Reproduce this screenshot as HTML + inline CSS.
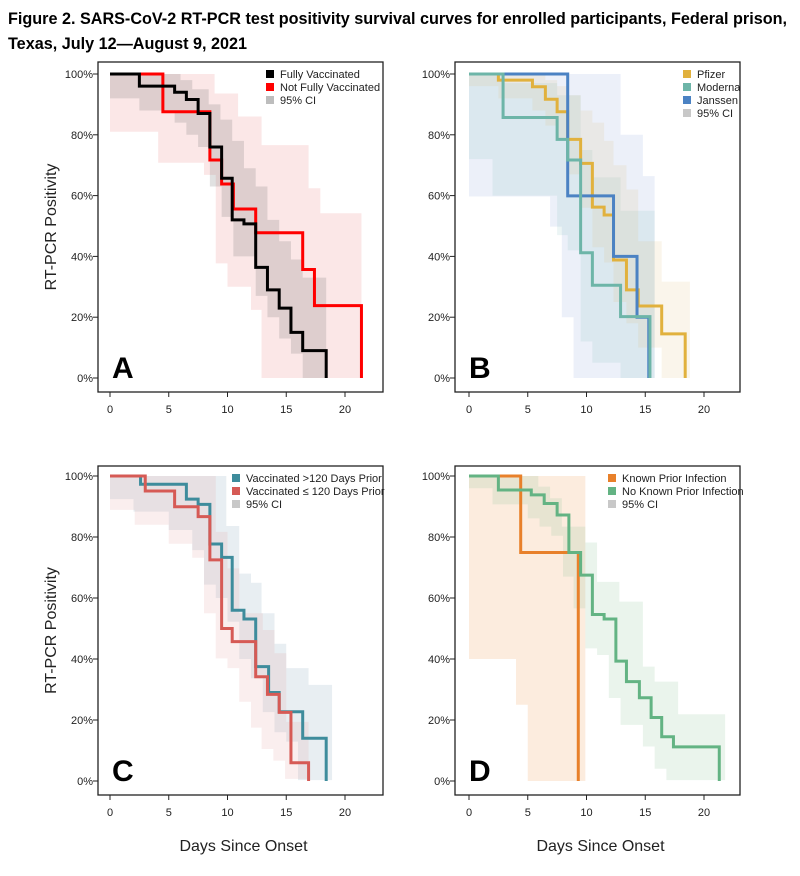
<!DOCTYPE html>
<html><head><meta charset="utf-8">
<style>
html,body{margin:0;padding:0;background:#fff;}
svg{display:block;font-family:"Liberation Sans",Arial,sans-serif;}
</style></head>
<body>
<svg id="chart" width="800" height="876" viewBox="0 0 800 876" xmlns="http://www.w3.org/2000/svg">
<text x="8" y="24" font-size="16.2" font-weight="bold" fill="#000">Figure 2. SARS-CoV-2 RT-PCR test positivity survival curves for enrolled participants, Federal prison,</text>
<text x="8" y="49" font-size="16.2" font-weight="bold" fill="#000">Texas, July 12—August 9, 2021</text>
</svg>
<script>
// ---------- Data ----------
const xTicks = [0, 5, 10, 15, 20];
const yTicks = [0, 20, 40, 60, 80, 100];
const yTickLabels = ["0%", "20%", "40%", "60%", "80%", "100%"];

// Panel A
const aFullTimes = [2.5,5.5,6.5,7.5,8.5,9.5,10.4,11.4,12.4,13.4,14.4,15.4,16.4,18.4];
const aFullVals  = [96,94,91.6,87,76,65.7,52,50.7,36.4,29,23,15,9,0];
const aNotTimes  = [4.5,8.5,9.5,10.5,12.4,16.4,17.4,21.4];
const aNotVals   = [87.6,71.7,63.8,55.6,47.8,35.7,23.8,0];
const aNotCiUpT  = [0,8.9,10.9,12.9,16.9,17.9];
const aNotCiUpV  = [100,93.6,86,76.6,62.4,54.2];
const aNotCiLoT  = [0,4.1,8.0,9.0,10.0,12.0,12.9];
const aNotCiLoV  = [81,70.8,66.8,37.7,30,22.4,0];
const aFullCiUpT = [0,6,7,8.4,9.4,10.4,11.4,12.4,13.4,14.4,15.4,16.4];
const aFullCiUpV = [100,98,95,90,85,78,69,63,52,45,39,33];
const aFullCiLoT = [0,2.5,5.5,6.5,7.5,8.5,9.5,10.5,12.4,13.4,14.4,15.4,16.4];
const aFullCiLoV = [92,88,84,80,76,63,53,40,27,20,13,8,0];

// Panel B
const bPfTimes = [2.5,5.4,6.5,7.5,8.4,9.5,10.5,11.5,12.3,13.4,14.4,16.4,18.4];
const bPfVals  = [98,95.8,91.7,87.6,78.5,70.6,56.2,53.6,38.8,29,23.7,14.5,0];
const bMoTimes = [2.9,7.5,8.4,9.5,10.5,12.9,15.4];
const bMoVals  = [85.7,78.5,71.7,41.2,30.5,20.2,0];
const bJaTimes = [8.4,12.3,14.3,15.3];
const bJaVals  = [59.9,40,20,0];
const bJaCiUpT = [0,12.9,14.8]; const bJaCiUpV = [100,80,66.4];
const bJaCiLoT = [0,6.9,7.9,8.9]; const bJaCiLoV = [59.7,49.8,20,0];
const bMoCiUpT = [0,2.9,7.5,9.5,10.5,12.9]; const bMoCiUpV = [100,97,93,75,66,55];
const bMoCiLoT = [0,2.0,7.5,8.4,9.5,10.5,12.9]; const bMoCiLoV = [72,60,47,42,12,5,0];
const bPfCiUpT = [0,6.5,7.5,8.4,9.5,10.5,11.5,12.3,13.4,14.4,16.4];
const bPfCiUpV = [100,98,96,93,88,84,78,70,62,45,31.7];
const bPfCiLoT = [0,2.5,5.4,6.5,7.5,8.4,9.5,10.5,11.5,12.3,13.4,14.4,16.4];
const bPfCiLoV = [96,92,88,83,78,67,56,43,38,25,18,10,0];

// Panel C
const cOldTimes = [2.6,6.5,7.5,8.5,9.5,10.4,11.4,12.4,13.5,14.4,16.4,18.4];
const cOldVals  = [97.3,92.4,90.7,77.7,73.3,56,53.1,37.5,29,22.7,14,0];
const cNewTimes = [3.0,5.5,7.5,8.5,9.5,10.4,12.4,13.4,14.4,15.4,16.9];
const cNewVals  = [95.1,89.9,86.7,72.5,50,45.7,34.2,28.4,22.5,6,0];
const cNewCiUpT = [0,9.0,10.0,11.0,13.0,14.0,15.0]; const cNewCiUpV = [100,81.7,69.7,55,49.5,41.9,19.4];
const cNewCiLoT = [0,2.1,5.0,7.0,8.0,9.0,10.0,11.0,12.0,12.9,13.9,14.9];
const cNewCiLoV = [88.9,84,77.8,73.2,55,40.2,37,26,17.5,10.5,6.7,0.7];
const cOldCiUpT = [0,9.9,11.0,12.0,12.9,14.0,15.0,16.9]; const cOldCiUpV = [100,83.6,68,65,55,45,37,31.5];
const cOldCiLoT = [0,2.0,5.0,7.0,8.0,9.0,10.0,11.0,12.0,13.0,14.0,15.0,16.0];
const cOldCiLoV = [92.4,88.3,82.3,75.7,64.4,60,52.2,40,33.7,22.6,16,12.9,0.3];

// Panel D
const dKnTimes = [4.4,9.3]; const dKnVals = [74.9,0];
const dNoTimes = [2.5,5.3,6.4,7.5,8.5,9.5,10.5,11.5,12.5,13.4,14.5,15.5,16.4,17.4,21.3];
const dNoVals  = [95.4,93.8,91,87.2,74.9,67.5,54.6,53.1,39.3,32.6,27.3,20.8,14.5,11.2,0];
const dKnCiUpT = [0]; const dKnCiUpV = [100];
const dKnCiLoT = [0,4.0,5.0]; const dKnCiLoV = [40,25,0];
const dNoCiUpT = [0,5.9,6.9,7.9,9.9,10.9,12.8,14.8,15.8,17.8];
const dNoCiUpV = [100,96.5,92.7,83.4,78.2,65.3,58.8,37.5,32.6,21.9];
const dNoCiLoT = [0,2.0,5.0,6.0,7.0,8.0,8.9,9.9,10.9,11.9,12.9,14.8,15.8,16.8];
const dNoCiLoV = [96,90.7,86.1,83.4,80.4,67,56.6,43.5,41.3,27.2,18.4,11.3,4,0.3];

// ---------- Drawing ----------
const NS = "http://www.w3.org/2000/svg";
const svg = document.getElementById("chart");
function mk(tag, attrs, parent){
  const e = document.createElementNS(NS, tag);
  for (const k in attrs) e.setAttribute(k, attrs[k]);
  (parent||svg).appendChild(e);
  return e;
}
function makePanel(p){
  const xs = d => p.xo + d * 11.75;
  const ys = v => p.yb - (p.yb - p.yt) * v / 100;
  const g = mk("g", {});
  
  
  p.cis.forEach(ci => {
    let d = "M" + xs(ci.ut[0]) + "," + ys(ci.uv[0]);
    for (let i = 0; i < ci.ut.length; i++) {
      const nx = i + 1 < ci.ut.length ? ci.ut[i+1] : ci.end;
      d += " H" + xs(nx);
      if (i + 1 < ci.ut.length) d += " V" + ys(ci.uv[i+1]);
    }
    d += " V" + ys(ci.lv[ci.lv.length-1]);
    for (let i = ci.lt.length - 1; i >= 0; i--) {
      d += " H" + xs(ci.lt[i]);
      if (i > 0) d += " V" + ys(ci.lv[i-1]);
    }
    d += " Z";
    const e = mk("path", {d: d, fill: ci.color}, g);
    
    
  });
  p.series.forEach(s => {
    let d = "M" + xs(0) + "," + ys(100);
    for (let i = 0; i < s.t.length; i++) d += " H" + xs(s.t[i]) + " V" + ys(s.v[i]);
    const e = mk("path", {d: d, fill: "none", stroke: s.color, "stroke-width": 3, "stroke-linejoin": "miter"}, g);
    
    
  });
  const fr = mk("rect", {x: p.box[0], y: p.box[1], width: p.box[2]-p.box[0], height: p.box[3]-p.box[1], fill: "none", stroke: "#222", "stroke-width": 1.3}, g);
  
  
  yTicks.forEach((v, i) => {
    mk("line", {x1: p.box[0]-5, x2: p.box[0], y1: ys(v), y2: ys(v), stroke: "#222", "stroke-width": 1}, g);
    const t = mk("text", {x: p.box[0]-5, y: ys(v)+4, "font-size": 11, "text-anchor": "end", fill: "#222"}, g);
    t.textContent = yTickLabels[i];
    
    
  });
  xTicks.forEach(v => {
    mk("line", {x1: xs(v), x2: xs(v), y1: p.box[3], y2: p.box[3]+5, stroke: "#222", "stroke-width": 1}, g);
    const t = mk("text", {x: xs(v), y: p.box[3]+21, "font-size": 11, "text-anchor": "middle", fill: "#222"}, g);
    t.textContent = String(v);
    
    
  });
  const L = mk("text", {x: p.box[0]+14, y: p.box[3]-14, "font-size": 30, "font-weight": "bold", fill: "#000"}, g);
  L.textContent = p.letter;
  
  
  p.legend.forEach((it, i) => {
    const yy = p.box[1] + 12 + i * 13;
    mk("rect", {x: p.lx, y: yy-4, width: 8, height: 8, fill: it[1]}, g);
    const t = mk("text", {x: p.lx + 14, y: yy + 4, "font-size": 11, fill: "#222"}, g);
    t.textContent = it[0];
    
    
  });
  if (p.ytitle) {
    const cy = (p.box[1]+p.box[3])/2;
    const t = mk("text", {x: 0, y: 0, "font-size": 16, "text-anchor": "middle", fill: "#222", transform: "translate(56," + cy + ") rotate(-90)"}, g);
    t.textContent = "RT-PCR Positivity";
    
    
  }
  if (p.xtitle) {
    const t = mk("text", {x: (p.box[0]+p.box[2])/2 + 3, y: 851, "font-size": 16, "text-anchor": "middle", fill: "#222"}, g);
    t.textContent = "Days Since Onset";
    
    
  }
}

makePanel({letter:"A", xo:110, yt:74, yb:378, box:[98,62,383,392], lx:266, ytitle:true,
  cis:[
    {name:"ci-not-fully-vaccinated", ut:aNotCiUpT, uv:aNotCiUpV, lt:aNotCiLoT, lv:aNotCiLoV, end:21.4, color:"rgba(235,120,120,0.18)"},
    {name:"ci-fully-vaccinated", ut:aFullCiUpT, uv:aFullCiUpV, lt:aFullCiLoT, lv:aFullCiLoV, end:18.4, color:"rgba(120,120,120,0.22)"}],
  series:[
    {name:"line-not-fully-vaccinated", t:aNotTimes, v:aNotVals, color:"#ff0000"},
    {name:"line-fully-vaccinated", t:aFullTimes, v:aFullVals, color:"#000000"}],
  legend:[["Fully Vaccinated","#000"],["Not Fully Vaccinated","#ff0000"],["95% CI","#bdbdbd"]]});

makePanel({letter:"B", xo:469, yt:74, yb:378, box:[455,62,740,392], lx:683,
  cis:[
    {name:"ci-janssen", ut:bJaCiUpT, uv:bJaCiUpV, lt:bJaCiLoT, lv:bJaCiLoV, end:15.8, color:"rgba(120,150,210,0.14)"},
    {name:"ci-moderna", ut:bMoCiUpT, uv:bMoCiUpV, lt:bMoCiLoT, lv:bMoCiLoV, end:15.8, color:"rgba(110,180,180,0.13)"},
    {name:"ci-pfizer", ut:bPfCiUpT, uv:bPfCiUpV, lt:bPfCiLoT, lv:bPfCiLoV, end:18.8, color:"rgba(220,190,120,0.15)"}],
  series:[
    {name:"line-pfizer", t:bPfTimes, v:bPfVals, color:"#e1b13d"},
    {name:"line-janssen", t:bJaTimes, v:bJaVals, color:"#4b82c3"},
    {name:"line-moderna", t:bMoTimes, v:bMoVals, color:"#6db5a8"}],
  legend:[["Pfizer","#e1b13d"],["Moderna","#6db5a8"],["Janssen","#4b82c3"],["95% CI","#c8c8c8"]]});

makePanel({letter:"C", xo:110, yt:476, yb:781, box:[98,466,383,795], lx:232, ytitle:true, xtitle:true,
  cis:[
    {name:"ci-vaccinated-over-120", ut:cOldCiUpT, uv:cOldCiUpV, lt:cOldCiLoT, lv:cOldCiLoV, end:18.9, color:"rgba(140,170,190,0.2)"},
    {name:"ci-vaccinated-under-120", ut:cNewCiUpT, uv:cNewCiUpV, lt:cNewCiLoT, lv:cNewCiLoV, end:16.9, color:"rgba(230,160,160,0.18)"}],
  series:[
    {name:"line-vaccinated-over-120", t:cOldTimes, v:cOldVals, color:"#3e8c9c"},
    {name:"line-vaccinated-under-120", t:cNewTimes, v:cNewVals, color:"#d65a55"}],
  legend:[["Vaccinated >120 Days Prior","#3e8c9c"],["Vaccinated \u2264 120 Days Prior","#d65a55"],["95% CI","#c8c8c8"]]});

makePanel({letter:"D", xo:469, yt:476, yb:781, box:[455,466,740,795], lx:608, xtitle:true,
  cis:[
    {name:"ci-known-prior-infection", ut:dKnCiUpT, uv:dKnCiUpV, lt:dKnCiLoT, lv:dKnCiLoV, end:9.9, color:"rgba(245,200,160,0.35)"},
    {name:"ci-no-known-prior-infection", ut:dNoCiUpT, uv:dNoCiUpV, lt:dNoCiLoT, lv:dNoCiLoV, end:21.8, color:"rgba(150,200,160,0.2)"}],
  series:[
    {name:"line-known-prior-infection", t:dKnTimes, v:dKnVals, color:"#e8802a"},
    {name:"line-no-known-prior-infection", t:dNoTimes, v:dNoVals, color:"#63b383"}],
  legend:[["Known Prior Infection","#e8802a"],["No Known Prior Infection","#63b383"],["95% CI","#c8c8c8"]]});
</script>
</body></html>
